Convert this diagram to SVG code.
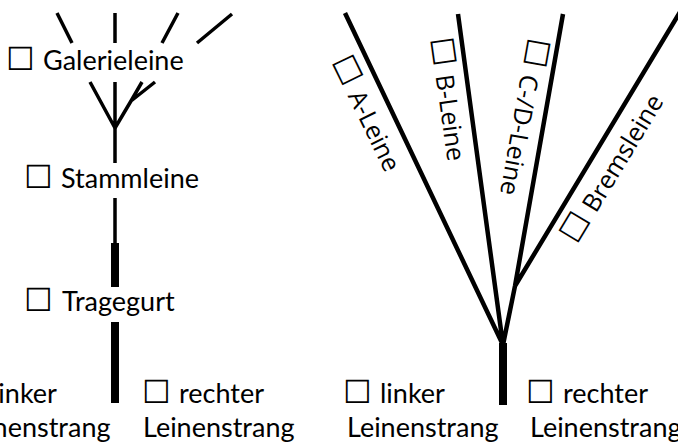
<svg xmlns="http://www.w3.org/2000/svg" width="678" height="444" viewBox="0 0 678 444">
<style>
.lbl{font-family:Lato,"Liberation Sans",sans-serif;font-size:27px;fill:#000}
.rot{font-family:"Open Sans","Liberation Sans",sans-serif;font-size:25px;fill:#000}
.bx{font-family:"Noto Sans CJK JP","DejaVu Sans",sans-serif;font-size:32px;font-weight:300}
.thin{fill:none;stroke:#000;stroke-width:3.5;stroke-linejoin:round}
.line{fill:none;stroke:#000;stroke-width:4.5;stroke-linejoin:round}
.thick{fill:none;stroke:#000;stroke-width:8}
</style>
<rect width="678" height="444" fill="#fff"/>
<g id="connectors">
  <path class="thin" d="M57,13 L72,43 M115,13 V43 M178,13 L162,43 M232,14 L197,43"/>
  <path class="thin" d="M90,82 L115,128 M115,82 V128 M142,82 L131,101 L115,128 M155,82 L131,101"/>
  <path class="thin" d="M115,128 V163 M115,198 V245"/>
  <path class="thick" d="M115,243 V287 M115,322 V403"/>
  <path class="line" d="M345,13 L503,345 M458,14 L503,345 M563,14 L515,286 L503,345 M680,12 L515,286"/>
  <path class="thick" d="M503,343 V405"/>
</g>
<g id="galerieleine"><text class="lbl" y="70"><tspan class="bx" x="6">☐</tspan><tspan x="43">Galerieleine</tspan></text></g>
<g id="stammleine"><text class="lbl" y="188"><tspan class="bx" x="24">☐</tspan><tspan x="61">Stammleine</tspan></text></g>
<g id="tragegurt"><text class="lbl" y="311"><tspan class="bx" x="24">☐</tspan><tspan x="62">Tragegurt</tspan></text></g>
<g id="left-linker"><text class="lbl"><tspan class="bx" x="-45" y="403">☐</tspan><tspan x="-8" y="403">linker</tspan><tspan x="-41" y="437">Leinenstrang</tspan></text></g>
<g id="left-rechter"><text class="lbl"><tspan class="bx" x="142" y="403">☐</tspan><tspan x="179" y="403">rechter</tspan><tspan x="143" y="437">Leinenstrang</tspan></text></g>
<g id="right-linker"><text class="lbl"><tspan class="bx" x="343" y="403">☐</tspan><tspan x="380" y="403">linker</tspan><tspan x="347" y="437">Leinenstrang</tspan></text></g>
<g id="right-rechter"><text class="lbl"><tspan class="bx" x="526" y="403">☐</tspan><tspan x="563" y="403">rechter</tspan><tspan x="530" y="437">Leinenstrang</tspan></text></g>
<g id="a-leine"><text class="rot" transform="translate(333,66) rotate(64)"><tspan class="bx" x="-4">☐</tspan><tspan x="33">A-Leine</tspan></text></g>
<g id="b-leine"><text class="rot" transform="translate(431,43) rotate(82)"><tspan class="bx" x="-4">☐</tspan><tspan x="33">B-Leine</tspan></text></g>
<g id="cd-leine"><text class="rot" transform="translate(527,41) rotate(100)"><tspan class="bx" x="-4">☐</tspan><tspan x="33">C-/D-Leine</tspan></text></g>
<g id="bremsleine"><text class="rot" transform="translate(579,242) rotate(-58.8)"><tspan class="bx" x="-4">☐</tspan><tspan x="33">Bremsleine</tspan></text></g>
</svg>
